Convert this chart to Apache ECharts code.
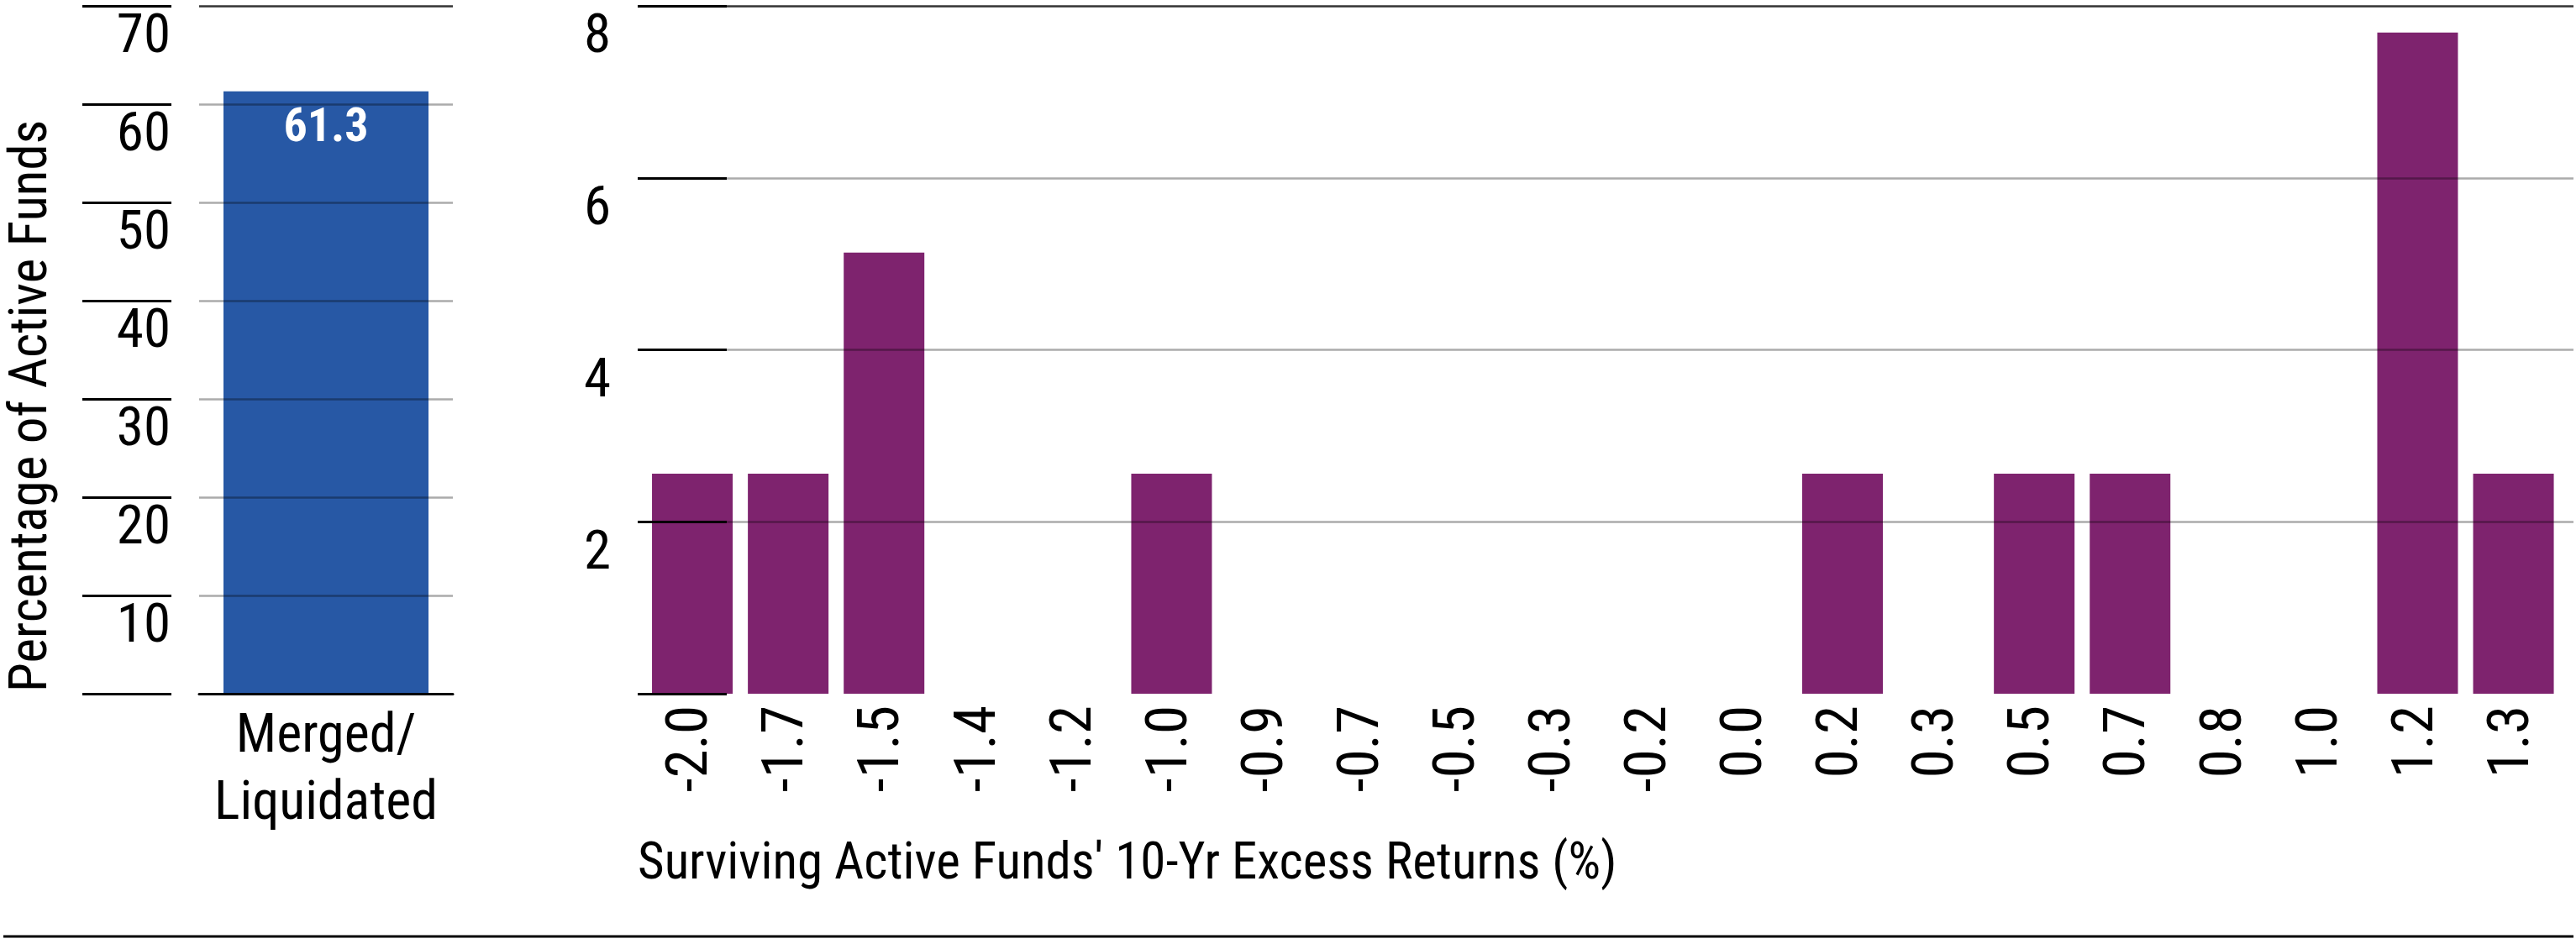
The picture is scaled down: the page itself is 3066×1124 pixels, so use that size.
<!DOCTYPE html>
<html><head><meta charset="utf-8">
<script src="https://cdn.jsdelivr.net/npm/echarts@6/dist/echarts.min.js"></script>
<style>html,body{margin:0;padding:0;background:#fff}#c{width:3066px;height:1124px}</style>
</head><body><div id="c"></div>
<script>
const leftCategories = ['Merged/\nLiquidated'];
const leftValues = [61.3];
const leftTickLabels = [10, 20, 30, 40, 50, 60, 70];

const rightCategories = ['-2.0','-1.7','-1.5','-1.4','-1.2','-1.0','-0.9','-0.7','-0.5','-0.3','-0.2','0.0','0.2','0.3','0.5','0.7','0.8','1.0','1.2','1.3'];
const rightValues = [2.56, 2.56, 5.13, 0, 0, 2.56, 0, 0, 0, 0, 0, 0, 2.56, 0, 2.56, 2.56, 0, 0, 7.69, 2.56];
const rightTickLabels = [2, 4, 6, 8];

const yTitle = 'Percentage of Active Funds';
const xTitle = "Surviving Active Funds' 10-Yr Excess Returns (%)";

const FONT = '"Roboto Condensed", "DejaVu Sans Condensed", "Liberation Sans", sans-serif';
const GRID_GRAY = 'rgba(0,0,0,0.33)';

const chart = echarts.init(document.getElementById('c'), null, {renderer: 'canvas'});

function tickFmt(list) {
  return v => (list.indexOf(v) >= 0 ? String(v) : '');
}

chart.setOption({
  animation: false,
  backgroundColor: '#fff',
  title: {
    text: xTitle, left: 759, top: 1000, padding: 0,
    textStyle: {fontSize: 61, fontWeight: 'normal', color: '#000', fontFamily: FONT}
  },
  grid: [
    {left: 237, width: 302, top: 7, height: 819, containLabel: false, outerBoundsMode: 'none'},
    {left: 759, width: 2304, top: 7, height: 819, containLabel: false, outerBoundsMode: 'none'},
    {left: 767, width: 2281.6, top: 7, height: 819, containLabel: false, outerBoundsMode: 'none'}
  ],
  xAxis: [
    {gridIndex: 0, type: 'category', data: leftCategories, z: 5,
     axisLine: {show: true, lineStyle: {color: '#000', width: 3}},
     axisTick: {show: false}, splitLine: {show: false},
     axisLabel: {interval: 0, margin: 13, fontSize: 64, lineHeight: 80, color: '#000', fontFamily: FONT}},
    {gridIndex: 1, type: 'value', show: false, min: 0, max: 1},
    {gridIndex: 2, type: 'category', data: rightCategories,
     axisLine: {show: false}, axisTick: {show: false}, splitLine: {show: false},
     axisLabel: {interval: 0, rotate: 90, margin: 14, fontSize: 69, color: '#000', fontFamily: FONT}}
  ],
  yAxis: [
    {gridIndex: 0, type: 'value', min: 0, max: 70, interval: 10, offset: 139, z: 5,
     axisLine: {show: false},
     axisTick: {show: true, inside: true, length: 106, lineStyle: {color: '#000', width: 3}},
     axisLabel: {inside: true, margin: 105, align: 'right', verticalAlign: 'top', lineHeight: 78,
                 fontSize: 65, color: '#000', fontFamily: FONT, formatter: tickFmt(leftTickLabels)},
     splitLine: {show: true, lineStyle: {width: 2.5,
       color: ['#000', GRID_GRAY, GRID_GRAY, GRID_GRAY, GRID_GRAY, GRID_GRAY, GRID_GRAY, '#333']}}},
    {gridIndex: 1, type: 'value', min: 0, max: 8, interval: 2, offset: 139, z: 5,
     axisLine: {show: false},
     axisTick: {show: true, inside: true, length: 106, lineStyle: {color: '#000', width: 3}},
     axisLabel: {inside: true, margin: 107, align: 'right', verticalAlign: 'top', lineHeight: 78,
                 fontSize: 65, color: '#000', fontFamily: FONT, formatter: tickFmt(rightTickLabels)},
     splitLine: {show: true, lineStyle: {width: 2.5,
       color: ['rgba(0,0,0,0)', GRID_GRAY, GRID_GRAY, GRID_GRAY, '#333']}}},
    {gridIndex: 2, type: 'value', min: 0, max: 8, show: false}
  ],
  series: [
    {type: 'bar', xAxisIndex: 0, yAxisIndex: 0, data: leftValues, barWidth: 244,
     itemStyle: {color: '#2758A5'},
     label: {show: true, position: 'insideTop', distance: 17, fontSize: 56, fontWeight: 'bold',
             color: '#fff', fontFamily: FONT, formatter: p => Number(p.value).toFixed(1)}},
    {type: 'bar', xAxisIndex: 2, yAxisIndex: 2, data: rightValues, barWidth: 96,
     itemStyle: {color: '#7E236E'}}
  ],
  graphic: [
    {type: 'text', x: 39, y: 824, rotation: Math.PI / 2,
     style: {text: yTitle, fontSize: 63, fontFamily: FONT, fill: '#000', align: 'left', verticalAlign: 'middle'}},
    {type: 'line', shape: {x1: 4, y1: 1115, x2: 3063, y2: 1115}, style: {stroke: '#000', lineWidth: 3}}
  ]
});
</script>
</body></html>
